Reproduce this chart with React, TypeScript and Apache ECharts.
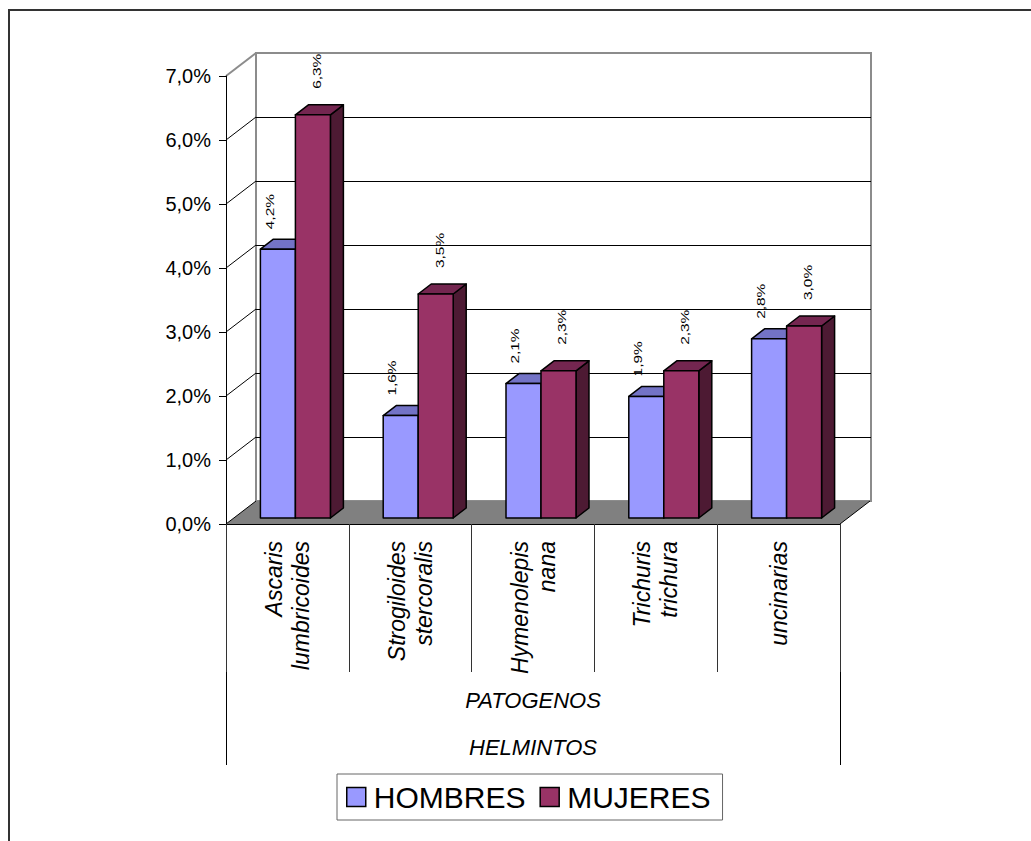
import React, { useEffect, useRef } from "react";
import * as echarts from "echarts";

const categories = [
  "Ascaris\nlumbricoides",
  "Strogiloides\nstercoralis",
  "Hymenolepis\nnana",
  "Trichuris\ntrichura",
  "uncinarias",
];
const hombres = [4.2, 1.6, 2.1, 1.9, 2.8];
const mujeres = [6.3, 3.5, 2.3, 2.3, 3.0];
const yTicks = [0, 1, 2, 3, 4, 5, 6, 7];
const yTickLabels = ["0,0%", "1,0%", "2,0%", "3,0%", "4,0%", "5,0%", "6,0%", "7,0%"];
const groupLabels = ["PATOGENOS", "HELMINTOS"];
const seriesNames = ["HOMBRES", "MUJERES"];

const FONT = "'Liberation Sans', Arial, sans-serif";
const WALL_DX = 30;
const WALL_DY = -23;
const BAR_OX = 8;
const BAR_OY = -6;
const BAR_DX = 13;
const BAR_DY = -10;

const palettes = [
  { front: "#9999FF", top: "#7373C6", side: "#4D4D80" },
  { front: "#993366", top: "#742650", side: "#4D1A33" },
];

const fmt = (v: number) => v.toFixed(1).replace(".", ",") + "%";

function makeBarRenderer(si: number) {
  const pal = palettes[si];
  return (params: any, api: any) => {
    const i = api.value(0);
    const v = api.value(1);
    const base = api.coord([i, 0]);
    const topP = api.coord([i, v]);
    const band = api.size([1, 0])[0];
    const w = band * 0.285;
    const l = (si === 0 ? base[0] - w : base[0]) + BAR_OX;
    const r = l + w;
    const b = base[1] + BAR_OY;
    const t = topP[1] + BAR_OY;
    const stroke = { stroke: "#000", lineWidth: 1.5, lineJoin: "round" };
    const labelX = si === 0 ? l + w * 0.27 : l + w * 0.62;
    const gap = si === 0 ? 20 : 26;
    return {
      type: "group",
      children: [
        {
          type: "polygon",
          shape: { points: [[r, t], [r + BAR_DX, t + BAR_DY], [r + BAR_DX, b + BAR_DY], [r, b]] },
          style: { fill: pal.side, ...stroke },
        },
        {
          type: "polygon",
          shape: { points: [[l, t], [l + BAR_DX, t + BAR_DY], [r + BAR_DX, t + BAR_DY], [r, t]] },
          style: { fill: pal.top, ...stroke },
        },
        {
          type: "rect",
          shape: { x: l, y: t, width: w, height: b - t },
          style: { fill: pal.front, ...stroke },
        },
        {
          type: "text",
          x: labelX,
          y: t - gap,
          rotation: Math.PI / 2,
          scaleX: 1.4,
          style: {
            text: fmt(v),
            fontSize: 11,
            fontFamily: FONT,
            fill: "#000",
            align: "left",
            verticalAlign: "middle",
          },
        },
      ],
    };
  };
}

function renderFrame(params: any, api: any) {
  const v = api.value(1);
  const cs = params.coordSys;
  const y = api.coord([0, v])[1];
  const left = cs.x;
  const right = cs.x + cs.width;
  if (v === 0) {
    return {
      type: "group",
      children: [
        {
          type: "polygon",
          shape: {
            points: [
              [left, y],
              [right, y],
              [right + WALL_DX, y + WALL_DY],
              [left + WALL_DX, y + WALL_DY],
            ],
          },
          style: { fill: "#808080", stroke: "none" },
        },
        {
          type: "line",
          shape: { x1: left, y1: y, x2: left + WALL_DX, y2: y + WALL_DY },
          style: { stroke: "#000", lineWidth: 1 },
        },
        {
          type: "line",
          shape: { x1: right, y1: y, x2: right + WALL_DX, y2: y + WALL_DY },
          style: { stroke: "#000", lineWidth: 1 },
        },
      ],
    };
  }
  const isTop = v === yTicks[yTicks.length - 1];
  return {
    type: "line",
    shape: { x1: left, y1: y, x2: left + WALL_DX, y2: y + WALL_DY },
    style: { stroke: isTop ? "#8c8c8c" : "#000", lineWidth: isTop ? 2 : 1 },
  };
}

export default function App() {
  const ref = useRef<HTMLDivElement>(null);
  useEffect(() => {
    if (!ref.current) return;
    const chart = echarts.init(ref.current, null, { renderer: "svg" });
    const option: any = {
      animation: false,
      backgroundColor: "#fff",
      graphic: [
        {
          type: "rect",
          shape: { x: 9, y: 10, width: 1100, height: 900 },
          style: { fill: "none", stroke: "#333", lineWidth: 2 },
          silent: true,
        },
      ],
      grid: [
        { left: 226, right: 191, top: 76, bottom: 317, containLabel: false },
        {
          left: 256,
          right: 160,
          top: 53,
          bottom: 340,
          show: true,
          borderColor: "#8c8c8c",
          borderWidth: 2,
          backgroundColor: "#fff",
          z: 0,
        },
      ],
      xAxis: [
        {
          type: "category",
          gridIndex: 0,
          data: categories,
          axisLine: { show: true, lineStyle: { color: "#000", width: 1 } },
          axisTick: { show: true, length: 148, interval: 0, lineStyle: { color: "#333", width: 1 } },
          axisLabel: {
            interval: 0,
            rotate: 90,
            margin: 17,
            fontSize: 23,
            lineHeight: 27,
            fontStyle: "italic",
            fontFamily: FONT,
            color: "#000",
          },
          splitLine: { show: false },
          z: 5,
        },
        {
          type: "category",
          gridIndex: 0,
          position: "bottom",
          data: [groupLabels[0]],
          axisLine: { show: false },
          axisTick: { show: true, length: 241, lineStyle: { color: "#000", width: 1 } },
          axisLabel: {
            margin: 165,
            fontSize: 22,
            fontStyle: "italic",
            fontFamily: FONT,
            color: "#000",
          },
          splitLine: { show: false },
        },
        {
          type: "category",
          gridIndex: 0,
          position: "bottom",
          data: [groupLabels[1]],
          axisLine: { show: false },
          axisTick: { show: false },
          axisLabel: {
            margin: 212,
            fontSize: 22,
            fontStyle: "italic",
            fontFamily: FONT,
            color: "#000",
          },
          splitLine: { show: false },
        },
        { type: "value", gridIndex: 1, show: false, min: 0, max: 1 },
      ],
      yAxis: [
        {
          type: "value",
          gridIndex: 0,
          min: 0,
          max: 7,
          interval: 1,
          axisLine: { show: true, lineStyle: { color: "#000", width: 1 } },
          axisTick: { show: true, length: 7, lineStyle: { color: "#000" } },
          axisLabel: {
            margin: 15,
            fontSize: 20,
            fontFamily: FONT,
            color: "#000",
            formatter: (val: number) => yTickLabels[yTicks.indexOf(Math.round(val))] ?? "",
          },
          splitLine: { show: false },
          z: 5,
        },
        {
          type: "value",
          gridIndex: 1,
          min: 0,
          max: 7,
          interval: 1,
          axisLine: { show: false },
          axisTick: { show: false },
          axisLabel: { show: false },
          splitLine: {
            show: true,
            showMinLine: false,
            showMaxLine: false,
            lineStyle: { color: "#000", width: 1 },
          },
        },
      ],
      legend: {
        left: 337,
        top: 774,
        orient: "horizontal",
        padding: [8, 12, 8, 9],
        itemGap: 14,
        itemWidth: 19,
        itemHeight: 19,
        borderColor: "#666",
        borderWidth: 1,
        backgroundColor: "#fff",
        textStyle: { fontSize: 30, fontFamily: FONT, color: "#000", padding: [0, 0, 0, 3] },
        data: [
          { name: seriesNames[0], icon: "rect", itemStyle: { color: palettes[0].front, borderColor: "#000", borderWidth: 1.5 } },
          { name: seriesNames[1], icon: "rect", itemStyle: { color: palettes[1].front, borderColor: "#000", borderWidth: 1.5 } },
        ],
      },
      series: [
        {
          type: "custom",
          name: "frame",
          xAxisIndex: 0,
          yAxisIndex: 0,
          data: yTicks.map((v) => [0, v]),
          renderItem: renderFrame,
          silent: true,
          z: 1,
        },
        {
          type: "custom",
          name: seriesNames[0],
          xAxisIndex: 0,
          yAxisIndex: 0,
          data: hombres.map((v, i) => [i, v]),
          encode: { x: 0, y: 1 },
          itemStyle: { color: palettes[0].front },
          renderItem: makeBarRenderer(0),
          z: 3,
        },
        {
          type: "custom",
          name: seriesNames[1],
          xAxisIndex: 0,
          yAxisIndex: 0,
          data: mujeres.map((v, i) => [i, v]),
          encode: { x: 0, y: 1 },
          itemStyle: { color: palettes[1].front },
          renderItem: makeBarRenderer(1),
          z: 4,
        },
      ],
    };
    chart.setOption(option);
    return () => chart.dispose();
  }, []);
  return (
    <div
      ref={ref}
      style={{ position: "absolute", left: 0, top: 0, width: 1031, height: 841 }}
    />
  );
}
